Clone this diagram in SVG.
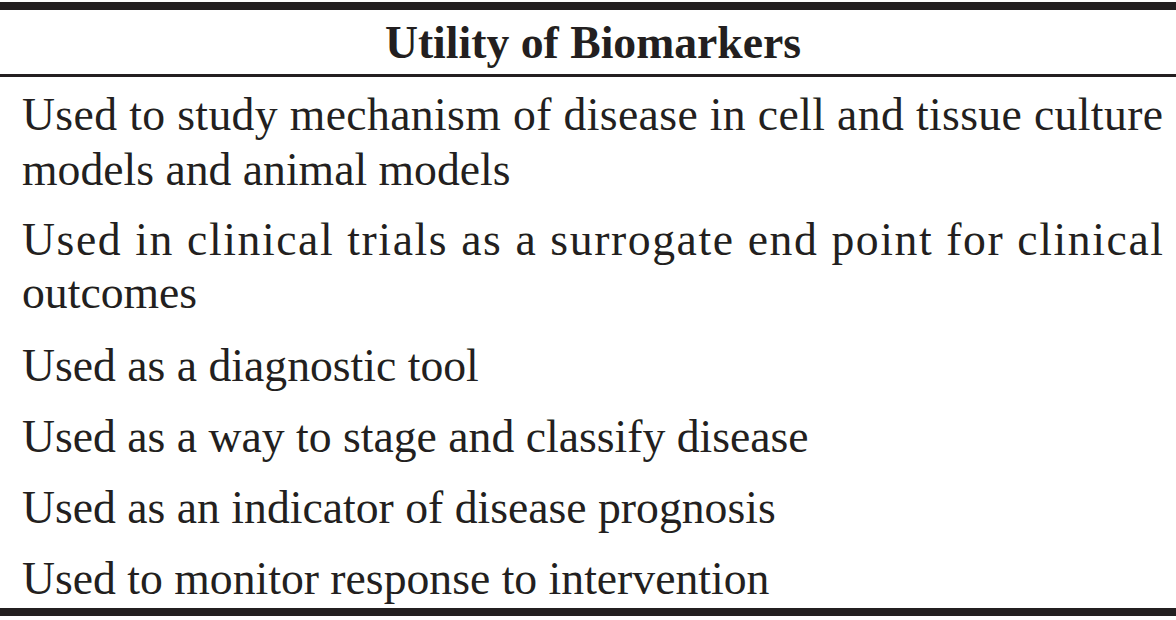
<svg xmlns="http://www.w3.org/2000/svg" width="1176" height="620" viewBox="0 0 1176 620">
<style>
text{font-family:"Liberation Serif","Times New Roman",serif;font-size:45.7px;fill:#231f20}
.h{font-weight:bold;text-anchor:middle}
</style>
<rect width="1176" height="620" fill="#fff"/>
<g id="rules" fill="#231f20">
<rect x="0" y="2" width="1176" height="8"/>
<rect x="0" y="74" width="1176" height="3"/>
<rect x="0" y="608" width="1176" height="8"/>
</g>
<g id="header"><text class="h" x="593" y="58">Utility of Biomarkers</text></g>
<g id="rows">
<text x="22" y="130" textLength="1141" lengthAdjust="spacing">Used to study mechanism of disease in cell and tissue culture</text>
<text x="22" y="185">models and animal models</text>
<text x="22" y="255" textLength="1141" lengthAdjust="spacing">Used in clinical trials as a surrogate end point for clinical</text>
<text x="22" y="308">outcomes</text>
<text x="22" y="381">Used as a diagnostic tool</text>
<text x="22" y="452">Used as a way to stage and classify disease</text>
<text x="22" y="523">Used as an indicator of disease prognosis</text>
<text x="22" y="594">Used to monitor response to intervention</text>
</g>
</svg>
